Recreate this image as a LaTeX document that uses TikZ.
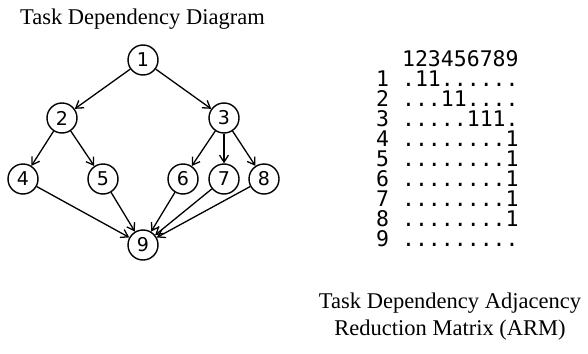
\documentclass[tikz,border=0pt]{standalone}
\usepackage{fontspec}
\setmainfont{Liberation Serif}
\newfontfamily\monofont{DejaVu Sans Mono}
\newfontfamily\numfont{DejaVu Sans}
\usetikzlibrary{arrows.meta}
\begin{document}
\begin{tikzpicture}[x=1pt,y=-1pt,
  task/.style={circle,draw,line width=1.4pt,minimum size=30pt,inner sep=0pt,
    font=\numfont\fontsize{19}{19}\selectfont},
  dep/.style={line width=1.3pt,-{Straight Barb[length=7pt,width=9pt,line width=1.3pt]}},
  caption/.style={font=\fontsize{22.5}{24}\selectfont,inner sep=0pt},
  matrixtext/.style={anchor=base west,inner sep=0pt,align=left,
    font=\monofont\fontsize{21.5}{20}\selectfont}]
\useasboundingbox (0,0) rectangle (588,353);
\node[caption,anchor=base west] (title) at (20,25) {Task Dependency Diagram};
\node[task] (n1) at (143,60) {1};
\node[task] (n2) at (62,118) {2};
\node[task] (n3) at (224,118) {3};
\node[task] (n4) at (23,179) {4};
\node[task] (n5) at (103,179) {5};
\node[task] (n6) at (183,179) {6};
\node[task] (n7) at (224,179) {7};
\node[task] (n8) at (264,179) {8};
\node[task] (n9) at (143,245) {9};
\draw[dep] (n1) -- (n2);
\draw[dep] (n1) -- (n3);
\draw[dep] (n2) -- (n4);
\draw[dep] (n2) -- (n5);
\draw[dep] (n3) -- (n6);
\draw[dep] (n3) -- (n7);
\draw[dep] (n3) -- (n8);
\draw[dep] (n4) -- (n9);
\draw[dep] (n5) -- (n9);
\draw[dep] (n6) -- (n9);
\draw[dep] (n7) -- (n9);
\draw[dep] (n8) -- (n9);
\def\sp{\hphantom{0}}
\node[matrixtext] (arm) at (376,246) {\sp\sp123456789\\
1\sp.11......\\
2\sp...11....\\
3\sp.....111.\\
4\sp........1\\
5\sp........1\\
6\sp........1\\
7\sp........1\\
8\sp........1\\
9\sp.........};
\node[caption,anchor=base] (cap1) at (450,308) {Task Dependency Adjacency};
\node[caption,anchor=base] (cap2) at (450,335) {Reduction Matrix (ARM)};
\end{tikzpicture}
\end{document}
